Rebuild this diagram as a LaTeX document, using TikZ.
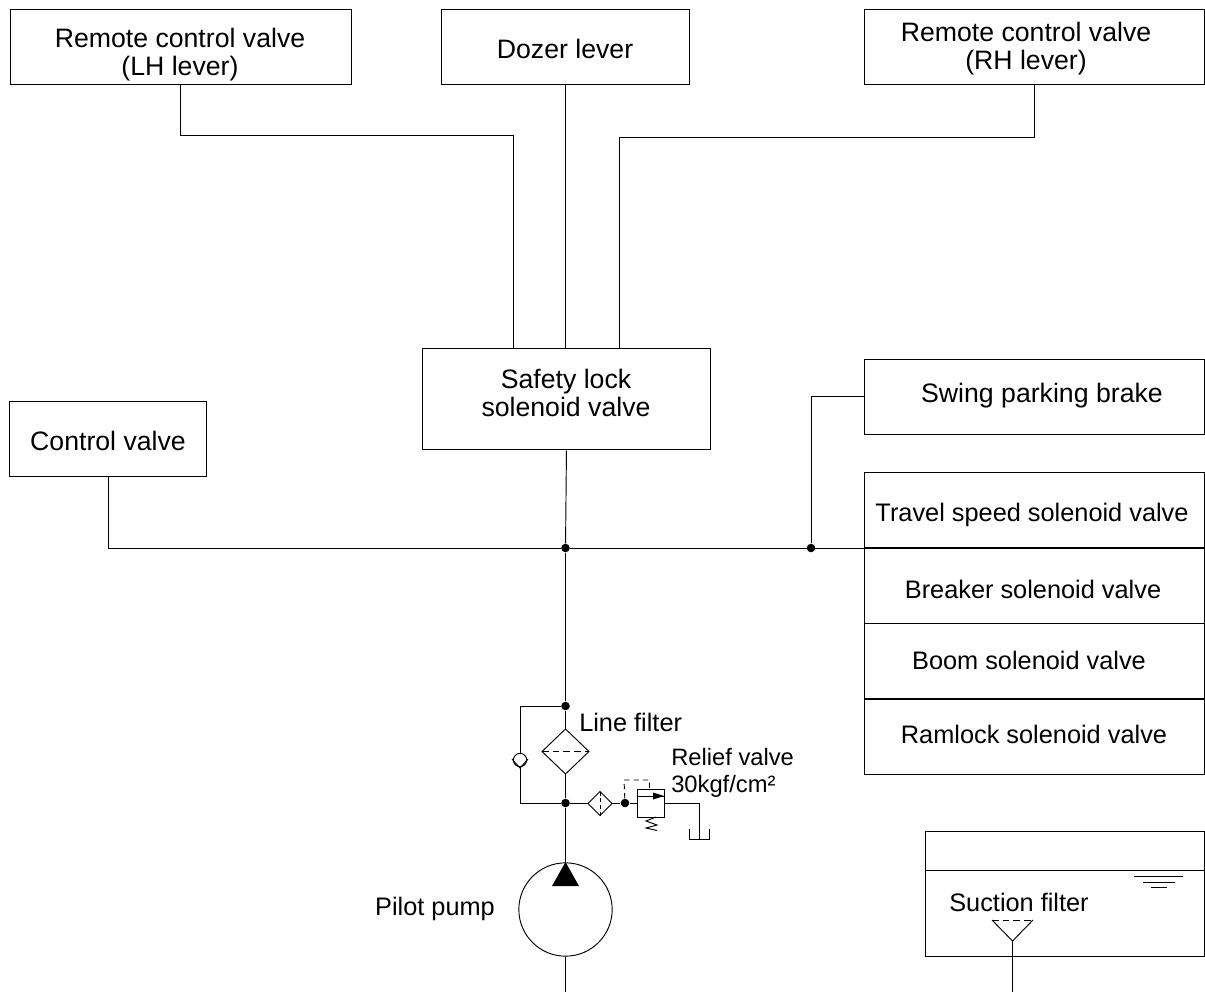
\documentclass[tikz,border=0pt]{standalone}
\usepackage{fontspec}
\setmainfont{Liberation Sans}
\usetikzlibrary{arrows,calc}
\tikzset{
	unitbox/.style={draw,line width=0.7pt,anchor=north west,inner sep=0pt},
	pipe/.style={line width=0.7pt},
	joint/.style={circle,inner sep=0pt,minimum size=6.4pt,fill=black},
	biglbl/.style={font=\fontsize{20}{21}\selectfont,align=center,inner sep=0pt},
	lbl/.style={font=\fontsize{19}{21}\selectfont,align=center,inner sep=0pt},
	sublbl/.style={font=\fontsize{17.8}{20}\selectfont,anchor=west,inner sep=0pt}
}
\begin{document}
\begin{tikzpicture}[x=0.75pt,y=-0.75pt,>=stealth']
\useasboundingbox (0,0) rectangle (1205,992);

% upper units
\node (lhvalve) at (10,9) [unitbox,minimum width=255.7pt,minimum height=56.2pt] {};
\node (dozer) at (441,9) [unitbox,minimum width=186pt,minimum height=56.2pt] {};
\node (rhvalve) at (864,9) [unitbox,minimum width=255pt,minimum height=56.2pt] {};
\node (safety) at (422,348) [unitbox,minimum width=216pt,minimum height=76pt] {};
\node (control) at (9,401) [unitbox,minimum width=148pt,minimum height=56pt] {};
\node (swing) at (864,359) [unitbox,minimum width=255pt,minimum height=56.2pt] {};

\node (lhtext) at (180,55) [biglbl] {Remote control valve\\(LH lever)};
\node (dozertext) at (565,49) [biglbl] {Dozer lever};
\node (rhtext) at (1026,49) [biglbl] {Remote control valve\\(RH lever)};
\node (safetytext) at (566,392.5) [biglbl] {Safety lock\\solenoid valve};
\node (controltext) at (108,441) [biglbl] {Control valve};
\node (swingtext) at (1042,396) [biglbl] {Swing parking brake};

% solenoid valve stack
\foreach \y/\name in {472/travel,548/breaker,623/boom,699/ramlock}
{
	\node (\name) at (864,\y) [unitbox,minimum width=255pt,minimum height=56.5pt] {};
}
\node (traveltext) at (1032,514.5) [lbl] {Travel speed solenoid valve};
\node (breakertext) at (1033,589) [lbl] {Breaker solenoid valve};
\node (boomtext) at (1029,660) [lbl] {Boom solenoid valve};
\node (ramlocktext) at (1034,734) [lbl] {Ramlock solenoid valve};

% main lines
\node (busjoint) at (565.5,548) [joint] {};
\node (swingjoint) at (811,548) [joint] {};
\node (upjoint) at (565.5,706) [joint] {};
\node (lowjoint) at (565.5,803) [joint] {};
\node (reliefjoint) at (625,803) [joint] {};

\coordinate (lhdown) at (513,348);
\coordinate (rhdown) at (619,348);
\coordinate (dozerdown) at (565.5,348);

\draw[pipe] (lhvalve.south) |- (513,135) -- (lhdown);
\draw[pipe] (rhvalve.south) |- (619,137) -- (rhdown);
\draw[pipe] (dozer.south) -- (dozerdown);
\draw[pipe] (safety.south) -- (busjoint);
\draw[pipe] (control.south) |- (busjoint);
\draw[pipe] (busjoint) -- (breaker.north west);
\draw[pipe] (swingjoint) |- (swing.west);
\draw[pipe] (busjoint) -- (upjoint);

% line filter
\coordinate (ftop) at (565.5,729);
\coordinate (fbot) at (565.5,774);
\draw[pipe,fill=white] (ftop) -- (589,751.5) -- (fbot) -- (542,751.5) -- cycle;
\draw[pipe,dash pattern=on 5pt off 3pt] (542,751.5) -- (589,751.5);
\draw[pipe] (upjoint) -- (ftop);
\draw[pipe] (fbot) -- (lowjoint);

% bypass with check valve
\node (check) at (520,760) [circle,draw,line width=0.7pt,inner sep=0pt,minimum size=10pt] {};
\draw[pipe] (upjoint) -| (check.north);
\draw[pipe] (check.south) |- (lowjoint);
\draw[pipe] (512,759) -- (520,768) -- (528,759);

% small filter and relief valve
\draw[pipe] (lowjoint) -- (588,803);
\draw[pipe,fill=white] (600,791.5) -- (612,803.5) -- (600,815.5) -- (588,803.5) -- cycle;
\draw[pipe,dash pattern=on 3pt off 2pt] (600,791.5) -- (600,815.5);
\draw[pipe] (612,803) -- (reliefjoint) -- (637,803);
\draw[pipe,dash pattern=on 4pt off 3pt] (reliefjoint) -- (624,780) -- (649.5,780) -- (649.5,789);
\draw[pipe] (637,789) rectangle (664,817);
\draw[pipe] (637,796) -- (664,796);
\fill (653,792.5) -- (664,796) -- (653,799.5) -- cycle;
\draw[pipe] (656,817) -- (646,821) -- (657,825) -- (646,828) -- (657,830.5);
\draw[pipe] (664,803) -| (699,839);
\draw[pipe] (689,829) |- (709,839) -- (709,829);

\node (relieftext) at (671,757) [sublbl] {Relief valve};
\node (presstext) at (671,786) [sublbl] {30kgf/cm²};
\node (filtertext) at (579,722) [lbl,anchor=west] {Line filter};

% pilot pump
\node (pump) at (565.5,909.5) [circle,draw,line width=0.7pt,inner sep=0pt,minimum size=70pt] {};
\coordinate (pumpend) at (565.5,992);
\draw[pipe] (lowjoint) -- (pump.north);
\draw[pipe] (pump.south) -- (pumpend);
\fill (565.5,862) -- (579,886) -- (552,886) -- cycle;
\node (pumptext) at (435,909) [lbl] {Pilot pump};

% tank
\node (tank) at (925,831) [unitbox,minimum width=209pt,minimum height=94pt] {};
\draw[pipe] (925,870) -- (1204,870);
\draw[pipe] (1134,876) -- (1183,876);
\draw[pipe] (1143,882) -- (1175,882);
\draw[pipe] (1151,887) -- (1167,887);
\node (suctiontext) at (1019,902) [lbl] {Suction filter};
\coordinate (suctiontip) at (1012.5,941);
\coordinate (suctionend) at (1012.5,992);
\draw[pipe] (992,920) -- (suctiontip) -- (1033,920);
\draw[pipe,dash pattern=on 5pt off 3pt] (992,920) -- (1033,920);
\draw[pipe] (suctiontip) -- (suctionend);

\end{tikzpicture}
\end{document}
